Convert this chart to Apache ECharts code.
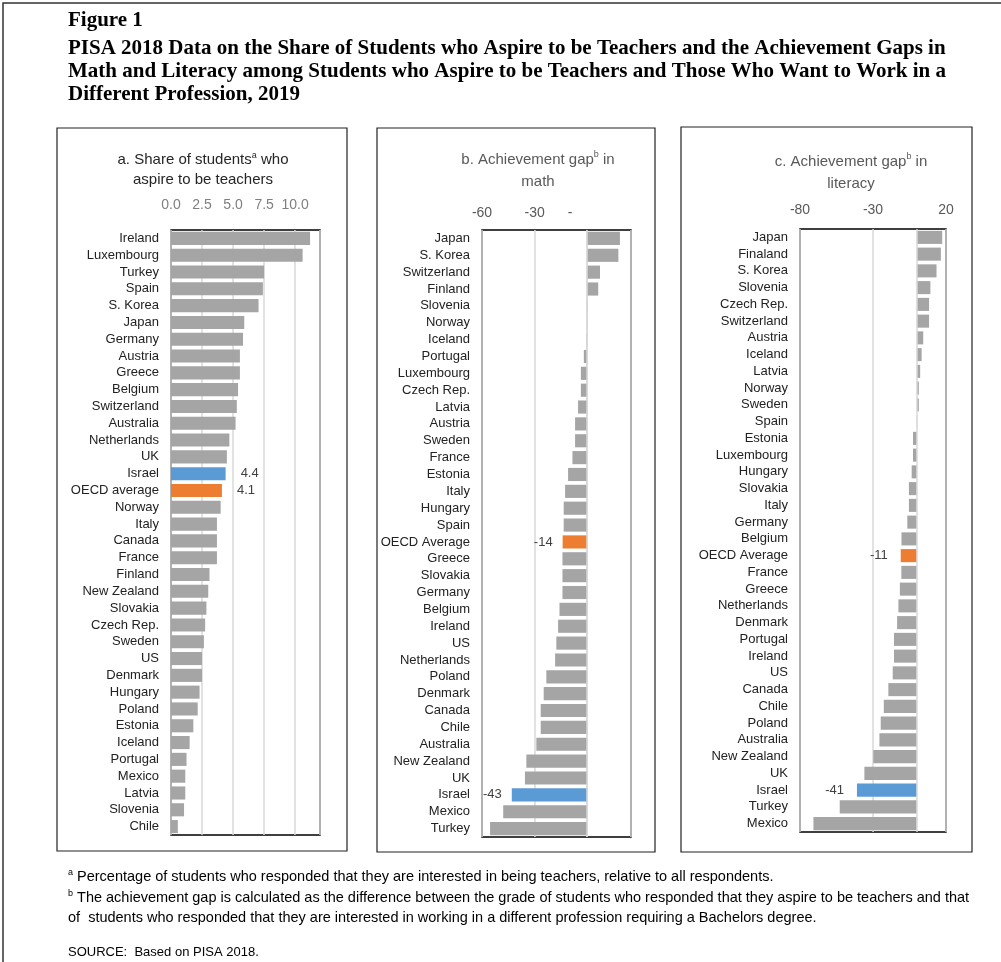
<!DOCTYPE html>
<html>
<head>
<meta charset="utf-8">
<script src="https://cdn.jsdelivr.net/npm/echarts@6/dist/echarts.min.js"></script>
<style>
  html, body { margin: 0; padding: 0; background: #fff; }
  #main { width: 1001px; height: 962px; }
</style>
</head>
<body>
<div id="main"></div>
<script>
// panel a: share of students who aspire to be teachers (%)
const shareCountries = ['Ireland', 'Luxembourg', 'Turkey', 'Spain', 'S. Korea', 'Japan', 'Germany', 'Austria',
  'Greece', 'Belgium', 'Switzerland', 'Australia', 'Netherlands', 'UK', 'Israel', 'OECD average', 'Norway',
  'Italy', 'Canada', 'France', 'Finland', 'New Zealand', 'Slovakia', 'Czech Rep.', 'Sweden', 'US', 'Denmark',
  'Hungary', 'Poland', 'Estonia', 'Iceland', 'Portugal', 'Mexico', 'Latvia', 'Slovenia', 'Chile'];
const shareValues = [11.2, 10.6, 7.5, 7.4, 7.05, 5.9, 5.8, 5.55, 5.55, 5.4, 5.3, 5.2, 4.7, 4.5, 4.4, 4.1, 4.0,
  3.7, 3.7, 3.7, 3.1, 3.0, 2.85, 2.75, 2.65, 2.5, 2.5, 2.3, 2.15, 1.8, 1.5, 1.25, 1.15, 1.15, 1.05, 0.55];

// panel b: achievement gap in math
const mathCountries = ['Japan', 'S. Korea', 'Switzerland', 'Finland', 'Slovenia', 'Norway', 'Iceland', 'Portugal',
  'Luxembourg', 'Czech Rep.', 'Latvia', 'Austria', 'Sweden', 'France', 'Estonia', 'Italy', 'Hungary', 'Spain',
  'OECD Average', 'Greece', 'Slovakia', 'Germany', 'Belgium', 'Ireland', 'US', 'Netherlands', 'Poland', 'Denmark',
  'Canada', 'Chile', 'Australia', 'New Zealand', 'UK', 'Israel', 'Mexico', 'Turkey'];
const mathGap = [18.7, 17.8, 7.3, 6.3, 0.3, 0.2, -0.3, -1.9, -3.6, -3.6, -5.2, -6.9, -6.9, -8.4, -10.9, -12.6,
  -13.4, -13.4, -14, -14.1, -14.1, -14.1, -15.8, -16.6, -17.6, -18.3, -23.3, -24.8, -26.5, -26.5, -29, -34.7,
  -35.5, -43, -47.9, -55.4];

// panel c: achievement gap in literacy
const litCountries = ['Japan', 'Finaland', 'S. Korea', 'Slovenia', 'Czech Rep.', 'Switzerland', 'Austria', 'Iceland',
  'Latvia', 'Norway', 'Sweden', 'Spain', 'Estonia', 'Luxembourg', 'Hungary', 'Slovakia', 'Italy', 'Germany',
  'Belgium', 'OECD Average', 'France', 'Greece', 'Netherlands', 'Denmark', 'Portugal', 'Ireland', 'US', 'Canada',
  'Chile', 'Poland', 'Australia', 'New Zealand', 'UK', 'Israel', 'Turkey', 'Mexico'];
const litGap = [17.4, 16.5, 13.5, 9.3, 8.4, 8.4, 4.4, 3.3, 2.3, 1.4, 1.4, 0.3, -2.6, -2.6, -3.5, -5.4, -5.4, -6.5,
  -10.5, -11, -10.6, -11.6, -12.6, -13.5, -15.6, -15.6, -16.5, -19.5, -22.6, -24.7, -25.6, -29.8, -35.9, -41,
  -52.8, -70.8];

const GRAY = '#A5A5A5', BLUE = '#5B9BD5', ORANGE = '#ED7D31';
const FONT = 'Liberation Sans';

// colour Israel and the OECD average, put labels on them
function barData (names, values, labelPos, labelDist) {
  return values.map(function (v, i) {
    const n = names[i];
    if (n === 'Israel' || n.indexOf('OECD') === 0) {
      return {
        value: v,
        itemStyle: { color: n === 'Israel' ? BLUE : ORANGE },
        label: { show: true, position: labelPos, distance: labelDist, color: '#404040', fontSize: 13, fontFamily: FONT }
      };
    }
    return v;
  });
}

function catAxis (gridIndex, names) {
  return {
    type: 'category',
    gridIndex: gridIndex,
    data: names,
    inverse: true,
    axisLine: { show: false, onZero: false },
    axisTick: { show: false },
    axisLabel: { color: '#222', fontSize: 13, fontFamily: FONT, margin: 12, interval: 0 }
  };
}

const sup = { fontSize: 9, verticalAlign: 'top', fontFamily: FONT, fontWeight: 'normal', padding: [1, 0, 0, 0] };
const zeroLine = {
  silent: true,
  symbol: ['none', 'none'],
  label: { show: false },
  lineStyle: { color: '#D9D9D9', type: 'solid', width: 1.5 },
  data: [{ xAxis: 0 }]
};
const headStyle = { fontFamily: 'Liberation Serif', fontWeight: 'bold', fontSize: 21, lineHeight: 23, color: '#000' };
const noteStyle = { fontFamily: FONT, fontWeight: 'normal', fontSize: 14.5, lineHeight: 20, color: '#000', rich: { s: sup } };

const chart = echarts.init(document.getElementById('main'));

const option = {
  backgroundColor: '#fff',
  animation: false,
  title: [
    { text: 'Figure 1', left: 68, top: 9, padding: 0, textStyle: headStyle },
    {
      text: 'PISA 2018 Data on the Share of Students who Aspire to be Teachers and the Achievement Gaps in\n' +
        'Math and Literacy among Students who Aspire to be Teachers and Those Who Want to Work in a\nDifferent Profession, 2019',
      left: 68, top: 37, padding: 0, textStyle: headStyle
    },
    {
      text: 'a. Share of students{s|a} who\naspire to be teachers',
      left: 203, top: 150, padding: 0, textAlign: 'center',
      textStyle: { fontFamily: FONT, fontWeight: 'normal', fontSize: 15, lineHeight: 20, color: '#262626', rich: { s: sup } }
    },
    {
      text: 'b. Achievement gap{s|b} in\nmath',
      left: 538, top: 149, padding: 0, textAlign: 'center',
      textStyle: { fontFamily: FONT, fontWeight: 'normal', fontSize: 15, lineHeight: 22, color: '#595959', rich: { s: sup } }
    },
    {
      text: 'c. Achievement gap{s|b} in\nliteracy',
      left: 851, top: 151, padding: 0, textAlign: 'center',
      textStyle: { fontFamily: FONT, fontWeight: 'normal', fontSize: 15, lineHeight: 22, color: '#595959', rich: { s: sup } }
    },
    {
      text: '{s|a} Percentage of students who responded that they are interested in being teachers, relative to all respondents.',
      left: 68, top: 867, padding: 0, textStyle: noteStyle
    },
    {
      text: '{s|b} The achievement gap is calculated as the difference between the grade of students who responded that they aspire to be teachers and that\n' +
        'of  students who responded that they are interested in working in a different profession requiring a Bachelors degree.',
      left: 68, top: 888, padding: 0, textStyle: noteStyle
    },
    {
      text: 'SOURCE:  Based on PISA 2018.',
      left: 68, top: 946, padding: 0,
      textStyle: { fontFamily: FONT, fontWeight: 'normal', fontSize: 13, color: '#000' }
    }
  ],
  graphic: [
    { type: 'rect', shape: { x: 3, y: 3, width: 1100, height: 1100 }, style: { fill: 'none', stroke: '#333', lineWidth: 1.5 }, silent: true },
    { type: 'rect', shape: { x: 57, y: 128, width: 290, height: 723 }, style: { fill: 'none', stroke: '#222', lineWidth: 1.2 }, silent: true },
    { type: 'rect', shape: { x: 377, y: 128, width: 278, height: 724 }, style: { fill: 'none', stroke: '#222', lineWidth: 1.2 }, silent: true },
    { type: 'rect', shape: { x: 681, y: 127, width: 291, height: 725 }, style: { fill: 'none', stroke: '#222', lineWidth: 1.2 }, silent: true }
  ],
  grid: [
    { left: 171, top: 230, width: 149, height: 605, show: true, borderColor: '#000', borderWidth: 1.5, backgroundColor: 'transparent' },
    { left: 482, top: 230, width: 149, height: 607, show: true, borderColor: '#000', borderWidth: 1.5, backgroundColor: 'transparent' },
    { left: 800, top: 229, width: 146, height: 603, show: true, borderColor: '#000', borderWidth: 1.5, backgroundColor: 'transparent' }
  ],
  xAxis: [
    {
      type: 'value', gridIndex: 0, position: 'top', min: 0, max: 12, interval: 2.5,
      axisLine: { show: false }, axisTick: { show: false },
      splitLine: { lineStyle: { color: '#D9D9D9', width: 1.5 } },
      axisLabel: {
        color: '#7F7F7F', fontSize: 14, fontFamily: FONT, margin: 18, showMaxLabel: false,
        formatter: function (v) { return v.toFixed(1); }
      }
    },
    {
      type: 'value', gridIndex: 1, position: 'top', min: -60, max: 25, interval: 30,
      axisLine: { show: false }, axisTick: { show: false },
      splitLine: { lineStyle: { color: '#D9D9D9', width: 1.5 } },
      axisLabel: {
        color: '#595959', fontSize: 14, fontFamily: FONT, margin: 10, showMaxLabel: false,
        formatter: function (v) { return v === 0 ? '{z|-}' : String(v); },
        rich: { z: { color: '#595959', fontSize: 14, fontFamily: FONT, padding: [0, 34, 0, 0] } }
      }
    },
    {
      type: 'value', gridIndex: 2, position: 'top', min: -80, max: 20, interval: 50,
      axisLine: { show: false }, axisTick: { show: false },
      splitLine: { lineStyle: { color: '#D9D9D9', width: 1.5 } },
      axisLabel: { color: '#595959', fontSize: 14, fontFamily: FONT, margin: 12 }
    }
  ],
  yAxis: [
    catAxis(0, shareCountries),
    catAxis(1, mathCountries),
    catAxis(2, litCountries)
  ],
  series: [
    {
      type: 'bar', xAxisIndex: 0, yAxisIndex: 0, barCategoryGap: '22%',
      itemStyle: { color: GRAY },
      data: barData(shareCountries, shareValues, 'right', 15)
    },
    {
      type: 'bar', xAxisIndex: 1, yAxisIndex: 1, barCategoryGap: '22%',
      itemStyle: { color: GRAY },
      data: barData(mathCountries, mathGap, 'left', 10),
      markLine: zeroLine
    },
    {
      type: 'bar', xAxisIndex: 2, yAxisIndex: 2, barCategoryGap: '22%',
      itemStyle: { color: GRAY },
      data: barData(litCountries, litGap, 'left', 13),
      markLine: zeroLine
    }
  ]
};

chart.setOption(option);
</script>
</body>
</html>
